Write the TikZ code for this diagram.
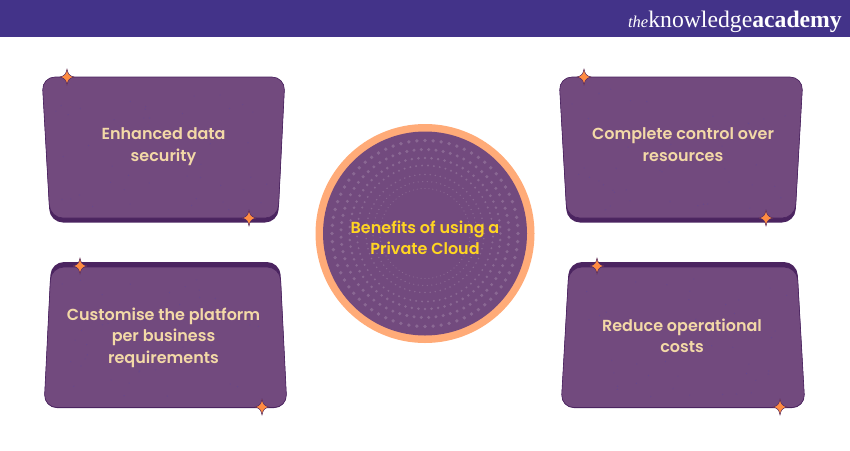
\documentclass[tikz,border=0pt]{standalone}
\usepackage{fontspec}
\setmainfont{Poppins}[BoldFont={Poppins SemiBold}]
\newfontfamily\logofont{Liberation Serif}
\definecolor{hdr}{HTML}{433389}
\definecolor{face}{HTML}{724A7E}
\definecolor{shade}{HTML}{4B2460}
\definecolor{ring}{HTML}{FFAB78}
\definecolor{spot}{HTML}{8A6893}
\definecolor{fleck}{HTML}{67488C}
\definecolor{cream}{HTML}{F3D9A7}
\definecolor{gold}{HTML}{FFD522}
\definecolor{spark}{HTML}{FF8C42}
\definecolor{sparkline}{HTML}{4B2460}
\pgfmathsetseed{7}
\newcommand{\flecks}[4]{%
  \foreach \k in {1,...,45}{
    \pgfmathsetmacro{\fx}{#1+rnd*(#2-#1)}
    \pgfmathsetmacro{\fy}{#3+rnd*(#4-#3)}
    \fill[fleck] (\fx,\fy) circle (0.6);
  }}
\tikzset{
  x=1pt,y=-1pt,
  facefill/.style={fill=face,draw=shade,line width=0.6pt,rounded corners=13pt},
  shadefill/.style={fill=shade,rounded corners=13pt},
  boxlabel/.style={text=cream,font=\bfseries\fontsize{16}{21.8}\selectfont,align=center,inner sep=0pt},
  hublabel/.style={text=gold,font=\bfseries\fontsize{16}{21.8}\selectfont,align=center,inner sep=0pt},
  sparkle/.pic={
    \path[fill=spark,draw=sparkline,line width=0.45pt]
      (0,-8) .. controls (1,-2.8) and (2.4,-1.2) .. (7,0)
      .. controls (2.4,1.2) and (1,2.8) .. (0,8)
      .. controls (-1,2.8) and (-2.4,1.2) .. (-7,0)
      .. controls (-2.4,-1.2) and (-1,-2.8) .. cycle;
  }
}
\begin{document}
\begin{tikzpicture}
\useasboundingbox (0,0) rectangle (850,450);
\fill[white] (0,0) rectangle (850,450);
\fill[hdr] (0,0) rectangle (850,36.5);
\node[anchor=base east,inner sep=0pt,text=white] (logo) at (842,27)
  {\logofont\fontsize{16.5}{16.5}\selectfont\itshape the\fontsize{23.7}{23.7}\selectfont\upshape knowledge\bfseries academy};

% top-left box
\path[shadefill] (42,77) -- (285,77) -- (278,222.5) -- (50,222.5) -- cycle;
\path[facefill] (42,77) -- (285,77) -- (278,218) -- (50,218) -- cycle;
\flecks{55}{270}{88}{210}
\node[boxlabel] (a) at (163.5,146.4) {\strut Enhanced data\\security\strut};
% bottom-left box
\path[shadefill] (51,262) -- (280,262) -- (287,408) -- (44,408) -- cycle;
\path[facefill] (51,267) -- (280,267) -- (287,407.5) -- (44,407.5) -- cycle;
\flecks{58}{274}{278}{400}
\node[boxlabel] (b) at (163.5,337.6) {\strut Customise the platform\\per business\\requirements\strut};
% top-right box
\path[shadefill] (559,77) -- (803,77) -- (795,222.5) -- (567,222.5) -- cycle;
\path[facefill] (559,77) -- (803,77) -- (795,218) -- (567,218) -- cycle;
\flecks{572}{788}{88}{210}
\node[boxlabel] (c) at (683,146.4) {\strut Complete control over\\resources\strut};
% bottom-right box
\path[shadefill] (569,262) -- (797,262) -- (805,408) -- (561,408) -- cycle;
\path[facefill] (569,267) -- (797,267) -- (805,407.5) -- (561,407.5) -- cycle;
\flecks{576}{792}{278}{400}
\node[boxlabel] (d) at (682,337.6) {\strut Reduce operational\\costs\strut};

% centre
\fill[ring] (425,233.5) circle (109.5);
\fill[face] (425,233.5) circle (102);
\foreach \r/\o/\s in {93/0/1.9,84/2.5/1.7,75.5/0/1.4,68/2.5/1.1,59/0/0.85,52/2.5/0.7,45/0/0.6}{
  \foreach \i in {1,...,72}{
    \fill[spot] ({425+\r*cos(5*\i+\o)},{233.5+\r*sin(5*\i+\o)}) circle (\s);
  }
}
\node[hublabel] (hub) at (425,239.6) {\strut Benefits of using a\\Private Cloud\strut};

\foreach \p in {(67,77),(249,218),(80,266),(262,407),(584,77),(766,218),(597,266),(780,407)}
  \pic at \p {sparkle};
\end{tikzpicture}
\end{document}
